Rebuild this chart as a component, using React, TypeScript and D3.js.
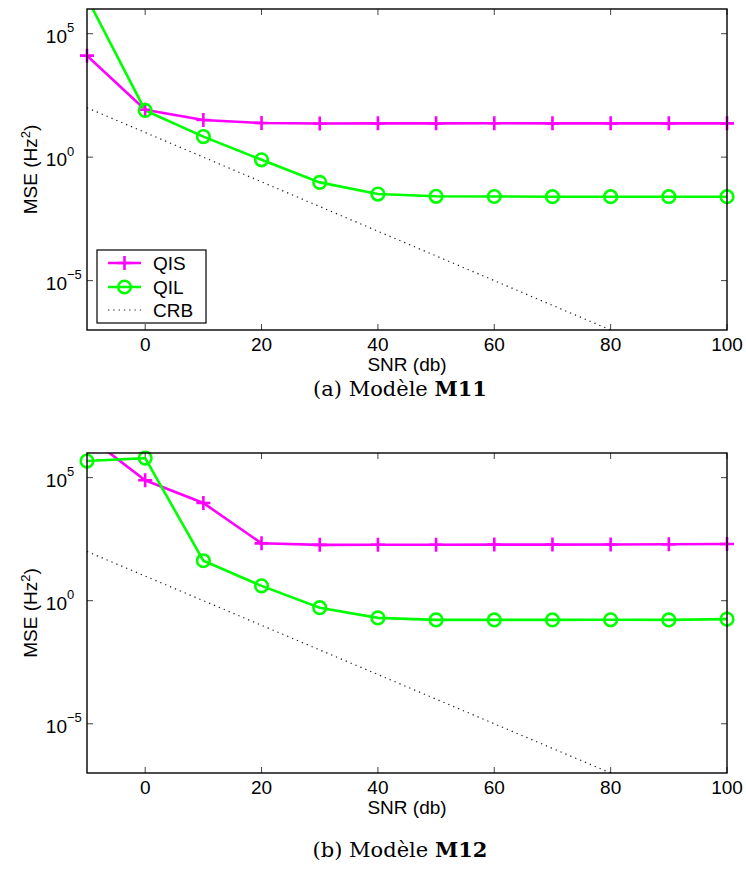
import React from "react";
import * as d3 from "d3";

const snr = [-10, 0, 10, 20, 30, 40, 50, 60, 70, 80, 90, 100];
const crbSnr = [-10, 0, 10, 20, 30, 40, 50, 60, 70, 80];
const crb = [100, 10, 1, 0.1, 0.01, 1e-3, 1e-4, 1e-5, 1e-6, 1e-7];

const qisA = [12900, 83, 32, 24, 23, 23.4, 23.4, 23.6, 23.4, 23.4, 23.4, 23.4];
const qilA = [2.8e6, 78, 6.8, 0.78, 0.095, 0.032, 0.026, 0.0255, 0.025, 0.025, 0.025, 0.025];

const qisB = [5e6, 78000, 9300, 214, 186, 187, 188, 190, 190, 192, 195, 200];
const qilB = [4.7e5, 6.2e5, 42, 4, 0.52, 0.2, 0.166, 0.166, 0.166, 0.168, 0.166, 0.178];

const xTicks = [0, 20, 40, 60, 80, 100];
const yTicks = [1e-5, 1, 1e5];
const yTickExp = ["\u22125", "0", "5"];

const MAGENTA = "#ff00ff";
const GREEN = "#00ff00";
const SANS = "'Liberation Sans', Arial, Helvetica, sans-serif";
const SERIF = "'DejaVu Serif', 'Liberation Serif', serif";
const FS = 19;

type PanelProps = {
  id: string;
  top: number;
  bottom: number;
  qis: number[];
  qil: number[];
  caption: string;
  captionBold: string;
  captionY: number;
  legend: boolean;
};

const LEFT = 87;
const RIGHT = 727;

function Panel({ id, top, bottom, qis, qil, caption, captionBold, captionY, legend }: PanelProps) {
  const x = d3.scaleLinear().domain([-10, 100]).range([LEFT, RIGHT]);
  const y = d3.scaleLog().domain([1e-7, 1e6]).range([bottom, top]);
  const line = d3
    .line<[number, number]>()
    .x((d) => x(d[0]))
    .y((d) => y(d[1]));
  const qisPts: [number, number][] = snr.map((s, i) => [s, qis[i]]);
  const qilPts: [number, number][] = snr.map((s, i) => [s, qil[i]]);
  const crbPts: [number, number][] = crbSnr.map((s, i) => [s, crb[i]]);
  const inside = (d: [number, number]) => d[1] >= 1e-7 && d[1] <= 1e6;
  const clipId = `clip-${id}`;
  const tl = 6;
  const midY = (top + bottom) / 2;
  const lgX = LEFT + 10;
  const lgY = bottom - 80;
  return (
    <g>
      <defs>
        <clipPath id={clipId}>
          <rect x={LEFT} y={top} width={RIGHT - LEFT} height={bottom - top} />
        </clipPath>
      </defs>
      <rect x={LEFT} y={top} width={RIGHT - LEFT} height={bottom - top} fill="#fff" />
      {xTicks.map((t) => (
        <g key={`xt${t}`}>
          <line x1={x(t)} x2={x(t)} y1={bottom} y2={bottom - tl} stroke="#444" strokeWidth={1} />
          <line x1={x(t)} x2={x(t)} y1={top} y2={top + tl} stroke="#444" strokeWidth={1} />
          <text x={x(t)} y={bottom + 21} textAnchor="middle" fontFamily={SANS} fontSize={FS} fill="#000">
            {t}
          </text>
        </g>
      ))}
      {yTicks.map((t, i) => (
        <g key={`yt${t}`}>
          <line x1={LEFT} x2={LEFT + tl} y1={y(t)} y2={y(t)} stroke="#444" strokeWidth={1} />
          <line x1={RIGHT} x2={RIGHT - tl} y1={y(t)} y2={y(t)} stroke="#444" strokeWidth={1} />
          <text x={67} y={y(t) + 9} textAnchor="end" fontFamily={SANS} fontSize={19} fill="#000">
            10
          </text>
          <text x={67} y={y(t) - 1.5} fontFamily={SANS} fontSize={13} fill="#000">
            {yTickExp[i]}
          </text>
        </g>
      ))}
      <g clipPath={`url(#${clipId})`}>
        <path d={line(crbPts) || ""} fill="none" stroke="#222" strokeWidth={1.2} strokeDasharray="1.3 4" />
        <path d={line(qisPts) || ""} fill="none" stroke={MAGENTA} strokeWidth={2.6} />
        <path d={line(qilPts) || ""} fill="none" stroke={GREEN} strokeWidth={2.6} />
      </g>
      {qisPts.filter(inside).map((d, i) => (
        <path
          key={`p${i}`}
          d={`M${x(d[0]) - 7},${y(d[1])}h14M${x(d[0])},${y(d[1]) - 7}v14`}
          stroke={MAGENTA}
          strokeWidth={2.6}
          fill="none"
        />
      ))}
      {qilPts.filter(inside).map((d, i) => (
        <circle key={`c${i}`} cx={x(d[0])} cy={y(d[1])} r={6.3} stroke={GREEN} strokeWidth={2.6} fill="none" />
      ))}
      <rect x={LEFT} y={top} width={RIGHT - LEFT} height={bottom - top} fill="none" stroke="#000" strokeWidth={1.4} />
      <text x={(LEFT + RIGHT) / 2} y={bottom + 41} textAnchor="middle" fontFamily={SANS} fontSize={FS} fill="#000">
        SNR (db)
      </text>
      <text
        transform={`translate(37,${midY}) rotate(-90)`}
        textAnchor="middle"
        fontFamily={SANS}
        fontSize={FS}
        fill="#000"
      >
        MSE (Hz<tspan dy={-7} fontSize={13}>2</tspan>
        <tspan dy={7}>)</tspan>
      </text>
      {legend && (
        <g>
          <rect x={lgX} y={lgY} width={109} height={73} fill="#fff" stroke="#000" strokeWidth={1.2} />
          <line x1={lgX + 11} x2={lgX + 44} y1={lgY + 13} y2={lgY + 13} stroke={MAGENTA} strokeWidth={2.6} />
          <path
            d={`M${lgX + 27.5 - 7},${lgY + 13}h14M${lgX + 27.5},${lgY + 6}v14`}
            stroke={MAGENTA}
            strokeWidth={2.6}
          />
          <text x={lgX + 56} y={lgY + 20} fontFamily={SANS} fontSize={FS}>
            QIS
          </text>
          <line x1={lgX + 11} x2={lgX + 44} y1={lgY + 37} y2={lgY + 37} stroke={GREEN} strokeWidth={2.6} />
          <circle cx={lgX + 27.5} cy={lgY + 37} r={6.3} stroke={GREEN} strokeWidth={2.6} fill="none" />
          <text x={lgX + 56} y={lgY + 44} fontFamily={SANS} fontSize={FS}>
            QIL
          </text>
          <line
            x1={lgX + 11}
            x2={lgX + 44}
            y1={lgY + 60}
            y2={lgY + 60}
            stroke="#222"
            strokeWidth={1.2}
            strokeDasharray="1.3 4"
          />
          <text x={lgX + 56} y={lgY + 67} fontFamily={SANS} fontSize={FS}>
            CRB
          </text>
        </g>
      )}
      <text x={400} y={captionY} textAnchor="middle" fontFamily={SERIF} fontSize={21} fill="#000">
        {caption}
        <tspan fontWeight="bold">{captionBold}</tspan>
      </text>
    </g>
  );
}

export default function App() {
  return (
    <svg
      width={746}
      height={869}
      viewBox="0 0 746 869"
      style={{ position: "absolute", left: 0, top: 0, background: "#fff" }}
    >
      <rect width={746} height={869} fill="#fff" />
      <Panel
        id="a"
        top={9}
        bottom={330}
        qis={qisA}
        qil={qilA}
        caption={"(a) Mod\u00e8le "}
        captionBold="M11"
        captionY={396}
        legend={true}
      />
      <Panel
        id="b"
        top={453}
        bottom={773}
        qis={qisB}
        qil={qilB}
        caption={"(b) Mod\u00e8le "}
        captionBold="M12"
        captionY={857}
        legend={false}
      />
    </svg>
  );
}
